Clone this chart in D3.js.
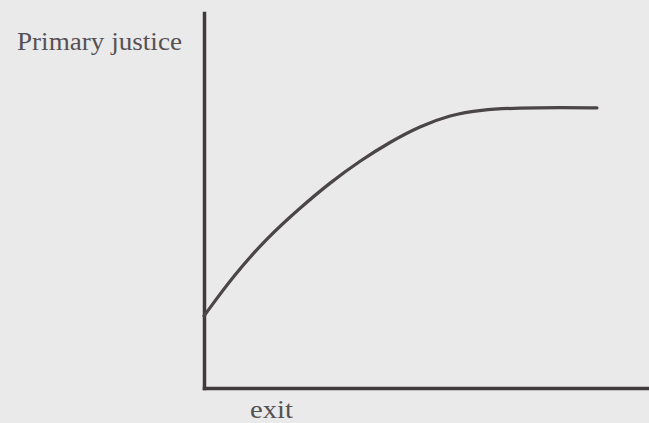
<!DOCTYPE html>
<html>
<head>
<meta charset="utf-8">
<script src="https://cdn.jsdelivr.net/npm/d3@7"></script>
<style>
  html, body { margin: 0; padding: 0; background: #ebeaea; }
  svg { display: block; }
</style>
</head>
<body>
<svg id="chart" width="649" height="423"></svg>
<script>
// Data (arbitrary 0-100 units)
const exitValues    = [0, 6.5, 14.1, 21.5, 28.3, 35.0, 41.7, 48.4, 55.2, 61.9, 70.9, 79.8, 88.1];
const justiceValues = [19.2, 29.8, 40.0, 48.0, 54.8, 60.6, 65.6, 69.8, 72.8, 74.2, 74.7, 74.8, 74.7];
const yAxisLabel = "Primary justice";
const xAxisLabel = "exit";

const svg = d3.select("#chart");
const W = 649, H = 423;
svg.append("rect").attr("width", W).attr("height", H).attr("fill", "#ebeaea");

const x = d3.scaleLinear().domain([0, 100]).range([204, 650]);
const y = d3.scaleLinear().domain([0, 100]).range([388, 13]);

const ink = "#3f3b3c";

const xAxis = svg.append("g")
  .attr("transform", `translate(0,${y(0)})`)
  .call(d3.axisBottom(x).ticks(0).tickSizeOuter(0));
const yAxis = svg.append("g")
  .attr("transform", `translate(${x(0)},0)`)
  .call(d3.axisLeft(y).ticks(0).tickSizeOuter(0));
[xAxis, yAxis].forEach(g => {
  g.select(".domain").attr("stroke", ink).attr("stroke-width", 3.5).attr("stroke-linecap", "square");
});

const pts = exitValues.map((v, i) => [v, justiceValues[i]]);
const line = d3.line().x(d => x(d[0])).y(d => y(d[1])).curve(d3.curveBasis);
svg.append("path")
  .datum(pts)
  .attr("d", line)
  .attr("fill", "none")
  .attr("stroke", "#4a4547")
  .attr("stroke-width", 3.2)
  .attr("stroke-linecap", "round");

svg.append("text")
  .attr("x", 17).attr("y", 50)
  .attr("font-family", "Liberation Serif, DejaVu Serif, serif")
  .attr("font-size", 25)
  .attr("textLength", 165)
  .attr("lengthAdjust", "spacingAndGlyphs")
  .attr("fill", "#555153")
  .text(yAxisLabel);

svg.append("text")
  .attr("x", 250).attr("y", 418)
  .attr("font-family", "Liberation Serif, DejaVu Serif, serif")
  .attr("font-size", 25)
  .attr("textLength", 43)
  .attr("lengthAdjust", "spacingAndGlyphs")
  .attr("fill", "#555153")
  .text(xAxisLabel);
</script>
</body>
</html>
